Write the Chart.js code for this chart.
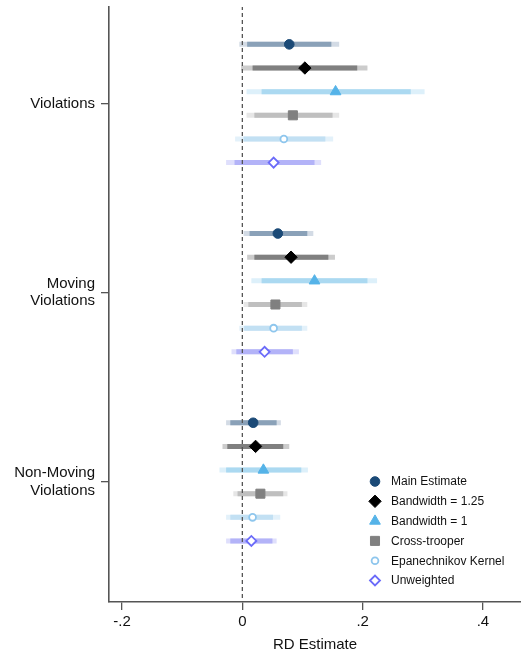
<!DOCTYPE html>
<html>
<head>
<meta charset="utf-8">
<script src="https://cdn.jsdelivr.net/npm/chart.js@4.4.1/dist/chart.umd.min.js"></script>
<style>
  html, body { margin: 0; padding: 0; background: #fff; overflow: hidden; }
  #wrap { width: 521px; height: 656px; position: relative; }
  #c { display: block; }
</style>
</head>
<body>
<div id="wrap"><canvas id="c"></canvas></div>
<script>
// Outcomes (y categories, top to bottom) and model specifications
const outcomes = [["Violations"], ["Moving", "Violations"], ["Non-Moving", "Violations"]];
const specs = ["Main Estimate", "Bandwidth = 1.25", "Bandwidth = 1", "Cross-trooper", "Epanechnikov Kernel", "Unweighted"];
const xTickValues = [-0.2, 0, 0.2, 0.4];

// Point estimates, one per outcome
const estMain  = [0.078, 0.059, 0.018];
const estBw125 = [0.104, 0.081, 0.022];
const estBw1   = [0.155, 0.120, 0.035];
const estCross = [0.084, 0.055, 0.030];
const estEpan  = [0.069, 0.052, 0.017];
const estUnw   = [0.052, 0.037, 0.015];

// 90% confidence intervals [low, high]
const ci90Main  = [[0.008, 0.148], [0.012, 0.108], [-0.020, 0.057]];
const ci90Bw125 = [[0.017, 0.191], [0.020, 0.143], [-0.025, 0.068]];
const ci90Bw1   = [[0.032, 0.280], [0.032, 0.208], [-0.027, 0.098]];
const ci90Cross = [[0.020, 0.150], [0.010, 0.099], [-0.008, 0.068]];
const ci90Epan  = [[0.002, 0.138], [0.003, 0.099], [-0.020, 0.051]];
const ci90Unw   = [[-0.013, 0.120], [-0.010, 0.084], [-0.020, 0.050]];

// 95% confidence intervals [low, high]
const ci95Main  = [[-0.005, 0.161], [0.002, 0.118], [-0.027, 0.064]];
const ci95Bw125 = [[-0.002, 0.208], [0.008, 0.154], [-0.033, 0.078]];
const ci95Bw1   = [[0.007, 0.303], [0.015, 0.224], [-0.038, 0.109]];
const ci95Cross = [[0.007, 0.161], [0.002, 0.108], [-0.015, 0.075]];
const ci95Epan  = [[-0.012, 0.151], [-0.005, 0.108], [-0.027, 0.063]];
const ci95Unw   = [[-0.027, 0.131], [-0.018, 0.094], [-0.027, 0.057]];

const estimates = [estMain, estBw125, estBw1, estCross, estEpan, estUnw];
const ci90 = [ci90Main, ci90Bw125, ci90Bw1, ci90Cross, ci90Epan, ci90Unw];
const ci95 = [ci95Main, ci95Bw125, ci95Bw1, ci95Cross, ci95Epan, ci95Unw];

// Marker and bar styling per specification
const styles = [
  { pointStyle: 'circle',   radius: 4.8, fill: '#1b4a77', stroke: '#1b4a77', bw: 1,   inner: '#8aa1b8', outer: '#d3dbe5' },
  { pointStyle: 'rectRot',  radius: 6.2, fill: '#000000', stroke: '#000000', bw: 1,   inner: '#808080', outer: '#cccccc' },
  { pointStyle: 'triangle', radius: 6.2, fill: '#55b3e8', stroke: '#55b3e8', bw: 1,   inner: '#abd9f1', outer: '#ddf0fa' },
  { pointStyle: 'rect',     radius: 6.4, fill: '#808080', stroke: '#808080', bw: 1,   inner: '#bfbfbf', outer: '#e6e6e6' },
  { pointStyle: 'circle',   radius: 3.4, fill: '#ffffff', stroke: '#8ec6ed', bw: 1.8, inner: '#c2e0f3', outer: '#e3f1fa' },
  { pointStyle: 'rectRot',  radius: 5.0, fill: '#ffffff', stroke: '#6b6bf9', bw: 1.8, inner: '#b3b3f8', outer: '#dfdffc' }
];

const rowStep = 0.125;
const yPos = (g, s) => g + 1 + (s - 2.5) * rowStep;

const datasets = [];
specs.forEach((name, s) => {
  const st = styles[s];
  datasets.push({
    label: name,
    data: estimates[s].map((v, g) => ({ x: v, y: yPos(g, s) })),
    showLine: false,
    pointStyle: st.pointStyle,
    pointRadius: st.radius,
    pointHoverRadius: st.radius,
    pointBackgroundColor: st.fill,
    pointBorderColor: st.stroke,
    pointBorderWidth: st.bw,
    order: 0
  });
  [[ci90[s], st.inner, 2], [ci95[s], st.outer, 3]].forEach(([ci, color, ord]) => {
    const pts = [];
    ci.forEach(([lo, hi], g) => {
      pts.push({ x: lo, y: yPos(g, s) }, { x: hi, y: yPos(g, s) }, { x: null, y: null });
    });
    datasets.push({
      label: name + ' CI',
      data: pts,
      showLine: true,
      spanGaps: false,
      borderColor: color,
      borderWidth: 5,
      borderCapStyle: 'butt',
      pointRadius: 0,
      pointHoverRadius: 0,
      order: ord
    });
  });
});

// Reference line at zero
datasets.push({
  label: 'zero',
  data: [{ x: 0, y: 0.3 }, { x: 0, y: 3.8 }],
  showLine: true,
  borderColor: '#555555',
  borderWidth: 1.3,
  borderDash: [4, 3],
  pointRadius: 0,
  order: 1
});

const FONT = '"Liberation Sans", Arial, Helvetica, sans-serif';

// Legend drawn inside the plot area, lower right
const innerLegend = {
  id: 'innerLegend',
  afterDraw(chart) {
    const ctx = chart.ctx;
    ctx.save();
    ctx.font = '12px ' + FONT;
    ctx.textBaseline = 'middle';
    ctx.textAlign = 'left';
    specs.forEach((name, s) => {
      const st = styles[s];
      const y = 481.5 + s * 19.8;
      ctx.fillStyle = st.fill;
      ctx.strokeStyle = st.stroke;
      ctx.lineWidth = st.bw;
      Chart.helpers.drawPoint(ctx, {
        pointStyle: st.pointStyle, radius: st.radius, rotation: 0, borderWidth: st.bw
      }, 375, y);
      ctx.fillStyle = '#111';
      ctx.fillText(name, 391, y + 0.5);
    });
    ctx.restore();
  }
};

// Keep the plot area fixed: no extra room reserved for edge labels
const noEdgePadding = (scale) => {
  scale.paddingTop = 0;
  scale.paddingBottom = 0;
  scale.paddingLeft = 0;
  scale.paddingRight = 0;
};

new Chart(document.getElementById('c'), {
  type: 'scatter',
  data: { datasets },
  options: {
    responsive: true,
    maintainAspectRatio: false,
    animation: false,
    layout: { autoPadding: false, padding: { top: 7, right: 0, bottom: 0, left: 0 } },
    plugins: { legend: { display: false }, tooltip: { enabled: false } },
    scales: {
      x: {
        type: 'linear',
        min: -0.2217,
        max: 0.4633,
        afterBuildTicks: (scale) => { scale.ticks = xTickValues.map(v => ({ value: v })); },
        afterFit: (scale) => { scale.height = 54; noEdgePadding(scale); },
        ticks: {
          color: '#111',
          font: { family: FONT, size: 15 },
          padding: 3,
          callback: (v) => v === 0 ? '0' : (v < 0 ? '-' : '') + String(Math.abs(v)).replace(/^0/, '')
        },
        grid: { display: true, drawOnChartArea: false, drawTicks: true, tickLength: 8, color: '#555', lineWidth: 1.3 },
        border: { display: true, color: '#555', width: 1.6 },
        title: { display: true, text: 'RD Estimate', color: '#111', font: { family: FONT, size: 15 }, padding: { top: 0, bottom: 2 } }
      },
      y: {
        type: 'linear',
        reverse: true,
        min: 0.49,
        max: 3.635,
        afterBuildTicks: (scale) => { scale.ticks = [1, 2, 3].map(v => ({ value: v })); },
        afterFit: (scale) => { scale.width = 109; noEdgePadding(scale); },
        ticks: {
          color: '#111',
          font: { family: FONT, size: 15, lineHeight: 1.15 },
          padding: 6,
          callback: (v) => outcomes[v - 1]
        },
        grid: { display: true, drawOnChartArea: false, drawTicks: true, tickLength: 8, color: '#555', lineWidth: 1.3 },
        border: { display: true, color: '#555', width: 1.6 }
      }
    }
  },
  plugins: [innerLegend]
});
</script>
</body>
</html>
